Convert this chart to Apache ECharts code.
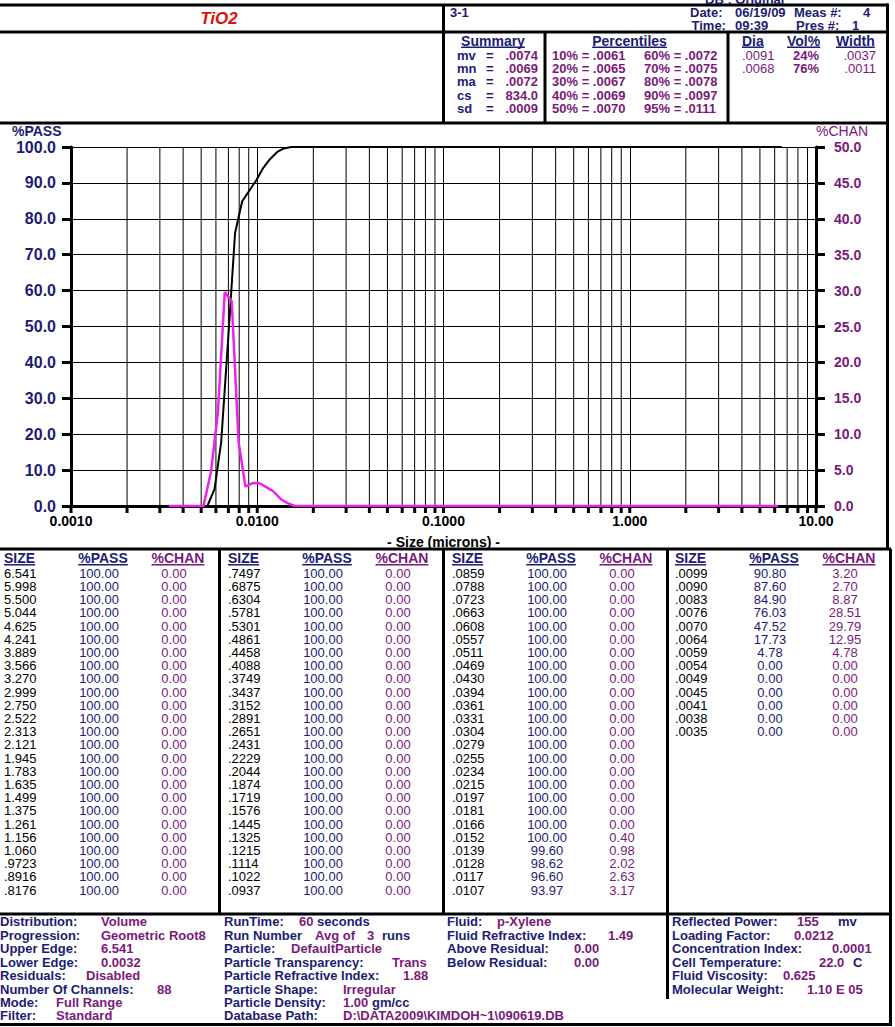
<!DOCTYPE html>
<html><head><meta charset="utf-8">
<script src="https://cdn.jsdelivr.net/npm/echarts@6/dist/echarts.min.js"></script>
<style>html,body{margin:0;padding:0;background:#fff}#c{width:895px;height:1027px}</style>
</head><body><div id="c"></div>
<script>
// ---------------- DATA ----------------
const sampleName = 'TiO2';
const sampleId = '3-1';
const sizes = [6.541,5.998,5.500,5.044,4.625,4.241,3.889,3.566,3.270,2.999,2.750,2.522,2.313,2.121,1.945,1.783,1.635,1.499,1.375,1.261,1.156,1.060,0.9723,0.8916,0.8176,
  0.7497,0.6875,0.6304,0.5781,0.5301,0.4861,0.4458,0.4088,0.3749,0.3437,0.3152,0.2891,0.2651,0.2431,0.2229,0.2044,0.1874,0.1719,0.1576,0.1445,0.1325,0.1215,0.1114,0.1022,0.0937,
  0.0859,0.0788,0.0723,0.0663,0.0608,0.0557,0.0511,0.0469,0.0430,0.0394,0.0361,0.0331,0.0304,0.0279,0.0255,0.0234,0.0215,0.0197,0.0181,0.0166,0.0152,0.0139,0.0128,0.0117,0.0107,
  0.0099,0.0090,0.0083,0.0076,0.0070,0.0064,0.0059,0.0054,0.0049,0.0045,0.0041,0.0038,0.0035];
const passPct = [100,100,100,100,100,100,100,100,100,100,100,100,100,100,100,100,100,100,100,100,100,100,100,100,100,
  100,100,100,100,100,100,100,100,100,100,100,100,100,100,100,100,100,100,100,100,100,100,100,100,100,
  100,100,100,100,100,100,100,100,100,100,100,100,100,100,100,100,100,100,100,100,100,99.60,98.62,96.60,93.97,
  90.80,87.60,84.90,76.03,47.52,17.73,4.78,0,0,0,0,0,0];
const chanPct = [0,0,0,0,0,0,0,0,0,0,0,0,0,0,0,0,0,0,0,0,0,0,0,0,0,
  0,0,0,0,0,0,0,0,0,0,0,0,0,0,0,0,0,0,0,0,0,0,0,0,0,
  0,0,0,0,0,0,0,0,0,0,0,0,0,0,0,0,0,0,0,0,0.40,0.98,2.02,2.63,3.17,
  3.20,2.70,8.87,28.51,29.79,12.95,4.78,0,0,0,0,0,0];
const lowerEdge = 0.0032;
const xTickLabels = ['0.0010','0.0100','0.1000','1.000','10.00'];
const decades = [0.001,0.01,0.1,1,10];
const summaryLabels = ['mv','mn','ma','cs','sd'];
const summaryValues = ['.0074','.0069','.0072','834.0','.0009'];
const pctLeft = ['10% = .0061','20% = .0065','30% = .0067','40% = .0069','50% = .0070'];
const pctRight = ['60% = .0072','70% = .0075','80% = .0078','90% = .0097','95% = .0111'];
const peakDia = ['.0091','.0068'];
const peakVol = ['24%','76%'];
const peakWidth = ['.0037','.0011'];
const footer1 = [['Distribution:','Volume'],['Progression:','Geometric Root8'],['Upper Edge:','6.541'],['Lower Edge:','0.0032'],['Residuals:','Disabled'],['Number Of Channels:','88'],['Mode:','Full Range'],['Filter:','Standard']];
const footer2 = [[['RunTime:',0],['60',1],['seconds',0]],[['Run Number',0],['Avg of',1],['3',1],['runs',0]],[['Particle:',0],['DefaultParticle',1]],[['Particle Transparency:',0],['Trans',1]],[['Particle Refractive Index:',0],['1.88',1]],[['Particle Shape:',0],['Irregular',1]],[['Particle Density:',0],['1.00',1],['gm/cc',0]],[['Database Path:',0],['D:\\DATA2009\\KIMDOH~1\\090619.DB',1]]];
const footer3 = [['Fluid:','p-Xylene'],['Fluid Refractive Index:','1.49'],['Above Residual:','0.00'],['Below Residual:','0.00']];
const footer4 = [[['Reflected Power:',0],['155',1],['mv',0]],[['Loading Factor:',0],['0.0212',1]],[['Concentration Index:',0],['0.0001',1]],[['Cell Temperature:',0],['22.0',1],['C',0]],[['Fluid Viscosity:',0],['0.625',1]],[['Molecular Weight:',0],['1.10 E 05',1]]];

// ---------------- LAYOUT / STYLE ----------------
const FONT = '"Liberation Sans", Arial, Helvetica, sans-serif';
const NAVY = '#1c1c72', PURPLE = '#7a1a7a', BLACK = '#000', RED = '#e01010', MAGENTA = '#ee22ee';
const G = [];
const mctx = document.createElement('canvas').getContext('2d');
function tw(text, size, weight, style){ mctx.font = (style||'normal')+' '+(weight||'bold')+' '+size+'px '+FONT; return mctx.measureText(text).width; }
function T(x, y, text, o){
  o = o || {};
  const size = o.size || 13, weight = o.weight || 'bold', color = o.color || NAVY, align = o.align || 'left', fst = o.fstyle || 'normal';
  G.push({type:'text', x:x, y:y, silent:true, z:10, style:{text:text, fill:color, fontSize:size, fontWeight:weight, fontFamily:FONT, fontStyle:fst, align:align, verticalAlign:'middle'}});
  if (o.underline){
    const w = tw(text, size, weight, fst);
    let x0 = align === 'left' ? x : (align === 'center' ? x - w/2 : x - w);
    L(x0, y + 6.5, x0 + w, y + 6.5, 1.5, color);
  }
}
function L(x1,y1,x2,y2,w,c){ G.push({type:'line', silent:true, z:9, shape:{x1:x1,y1:y1,x2:x2,y2:y2}, style:{stroke:c||BLACK, lineWidth:w||3}}); }

// frames
L(0,5,888,5); L(0,32,888,32); L(0,123,888,123);
L(443.5,5,443.5,123); L(545,32,545,123); L(728,32,728,123);
L(887.5,3.5,887.5,549);
L(0,549,891,549); L(0,914,891,914); L(0,1024.5,891,1024.5);
L(890.5,549,890.5,1026);
L(219.5,549,219.5,914); L(443.5,549,443.5,914); L(667.5,549,667.5,914);
L(667.5,914,667.5,999);

// header
T(219, 18.5, sampleName, {size:17, color:RED, fstyle:'italic', align:'center'});
T(450, 12.3, sampleId);
T(705, -1, 'DB : Original');
T(690, 12.3, 'Date:'); T(735, 12.3, '06/19/09'); T(794, 12.3, 'Meas #:'); T(863, 12.3, '4');
T(691.5, 25.5, 'Time:'); T(735, 25.5, '09:39'); T(796, 25.5, 'Pres #:'); T(852, 25.5, '1');
// summary
T(493, 40.7, 'Summary', {size:14, align:'center', underline:true});
T(629.5, 40.7, 'Percentiles', {size:14, align:'center', underline:true});
T(742, 40.7, 'Dia', {size:14, underline:true}); T(787, 40.7, 'Vol%', {size:14, underline:true}); T(836, 40.7, 'Width', {size:14, underline:true});
summaryLabels.forEach((s,i)=>{ const y = 55 + i*13.35; T(457, y, s); T(486, y, '='); T(538, y, summaryValues[i], {align:'right', color:PURPLE}); });
pctLeft.forEach((s,i)=>{ const y = 55 + i*13.35; T(552, y, s, {color:PURPLE}); T(644, y, pctRight[i], {color:PURPLE}); });
peakDia.forEach((s,i)=>{ const y = 55 + i*13.35; T(742, y, s, {color:PURPLE, weight:'normal'}); T(793, y, peakVol[i], {color:PURPLE}); T(876, y, peakWidth[i], {align:'right', color:PURPLE, weight:'normal'}); });

// table
function fmtSize(v){ return v >= 1 ? v.toFixed(3) : v.toFixed(4).replace(/^0/, ''); }
const groupBase = [0, 224, 448, 671];
const rowsPerGroup = 25;
groupBase.forEach((b, g)=>{
  T(b + 4, 558.3, 'SIZE', {size:14, underline:true});
  T(b + 103, 558.3, '%PASS', {size:14, align:'center', underline:true});
  T(b + 178, 558.3, '%CHAN', {size:14, align:'center', underline:true, color:PURPLE});
  for (let r = 0; r < rowsPerGroup; r++){
    const i = g*rowsPerGroup + r; if (i >= sizes.length) break;
    const y = 573.3 + r*13.2;
    T(b + 4, y, fmtSize(sizes[i]), {color:BLACK, weight:'normal'});
    T(b + 99, y, passPct[i].toFixed(2), {align:'center', weight:'normal'});
    T(b + 174, y, chanPct[i].toFixed(2), {align:'center', weight:'normal', color:PURPLE});
  }
});

// footer
const fy0 = 921.7, fdy = 13.47;
const f1x = [101,101,101,101,86,157,56,56];
footer1.forEach((p,i)=>{ const y = fy0 + i*fdy; T(0, y, p[0]); T(f1x[i], y, p[1], {color:PURPLE}); });
function seqRow(y, parts, xs){ parts.forEach((p,k)=>{ T(xs[k], y, p[0], {color: p[1] ? PURPLE : NAVY}); }); }
const f2x = [[224,299,317],[224,315,367,382],[224,291],[224,392],[224,403],[224,343],[224,343,372],[224,343]];
footer2.forEach((p,i)=> seqRow(fy0 + i*fdy, p, f2x[i]));
const f3x = [497,608,574,574];
footer3.forEach((p,i)=>{ const y = fy0 + i*fdy; T(447, y, p[0]); T(f3x[i], y, p[1], {color:PURPLE}); });
const f4x = [[672,797,838],[672,794],[672,832],[672,819,853],[672,783],[672,807]];
footer4.forEach((p,i)=> seqRow(fy0 + i*fdy, p, f4x[i]));

// axis names
T(12, 131, '%PASS', {size:14});
T(816, 131, '%CHAN', {size:14, color:PURPLE, weight:'normal'});

// ---------------- CHART ----------------
const passData = sizes.map((s,i)=>[s, passPct[i]]);
const chanData = sizes.map((s,i)=>[Math.sqrt(s * (i+1 < sizes.length ? sizes[i+1] : lowerEdge)), chanPct[i]]);
const gridMarks = [];
decades.forEach((d, k)=>{
  gridMarks.push([d, 0]);
  if (k < decades.length - 1) for (let m = 2; m <= 9; m++) gridMarks.push([d*m, 1]);
});

const chart = echarts.init(document.getElementById('c'), null, {renderer:'svg'});
chart.setOption({
  animation:false,
  backgroundColor:'#fff',
  grid:{left:71, right:79, top:147, bottom:521, containLabel:false},
  xAxis:{type:'log', logBase:10, min:0.001, max:10, interval:1,
    name:'- Size (microns) -', nameLocation:'middle', nameGap:29,
    nameTextStyle:{color:BLACK, fontWeight:'bold', fontSize:14, fontFamily:FONT},
    axisLine:{show:true, lineStyle:{color:BLACK, width:3}},
    axisTick:{show:false},
    axisLabel:{margin:8, color:BLACK, fontWeight:'bold', fontSize:14, fontFamily:FONT,
      formatter:(v, idx)=> xTickLabels[idx] !== undefined ? xTickLabels[idx] : ''},
    splitLine:{show:true, lineStyle:{color:BLACK, width:1}}},
  yAxis:[
    {type:'value', min:0, max:100, interval:10, position:'left',
      axisLine:{show:true, lineStyle:{color:BLACK, width:3}},
      axisTick:{show:true, length:9, lineStyle:{color:BLACK, width:3}},
      axisLabel:{margin:15, color:NAVY, fontWeight:'bold', fontSize:16, fontFamily:FONT, formatter:v=>v.toFixed(1)},
      splitLine:{show:true, lineStyle:{color:BLACK, width:1}}},
    {type:'value', min:0, max:50, interval:5, position:'right',
      axisLine:{show:true, lineStyle:{color:BLACK, width:3}},
      axisTick:{show:true, length:9, lineStyle:{color:BLACK, width:3}},
      axisLabel:{margin:18, color:PURPLE, fontWeight:'bold', fontSize:14, fontFamily:FONT, formatter:v=>v.toFixed(1)},
      splitLine:{show:false}}
  ],
  series:[
    {type:'custom', xAxisIndex:0, yAxisIndex:0, z:1, clip:false, silent:true, data:gridMarks,
      renderItem:(params, api)=>{
        const v = api.value(0), minor = api.value(1);
        const p0 = api.coord([v, 0]), p1 = api.coord([v, 100]);
        const ch = [{type:'line', shape:{x1:p0[0], y1:p0[1], x2:p0[0], y2:p0[1]+7}, style:{stroke:BLACK, lineWidth:3}}];
        if (minor) ch.push({type:'line', shape:{x1:p0[0], y1:p0[1], x2:p1[0], y2:p1[1]}, style:{stroke:BLACK, lineWidth:1}});
        return {type:'group', children:ch};
      }},
    {type:'line', name:'%PASS', yAxisIndex:0, data:passData, showSymbol:false, z:3,
      lineStyle:{color:BLACK, width:2}, itemStyle:{color:BLACK}},
    {type:'line', name:'%CHAN', yAxisIndex:1, data:chanData, showSymbol:false, z:4,
      lineStyle:{color:MAGENTA, width:2.5}, itemStyle:{color:MAGENTA}}
  ],
  graphic:{elements:G}
});
</script></body></html>
